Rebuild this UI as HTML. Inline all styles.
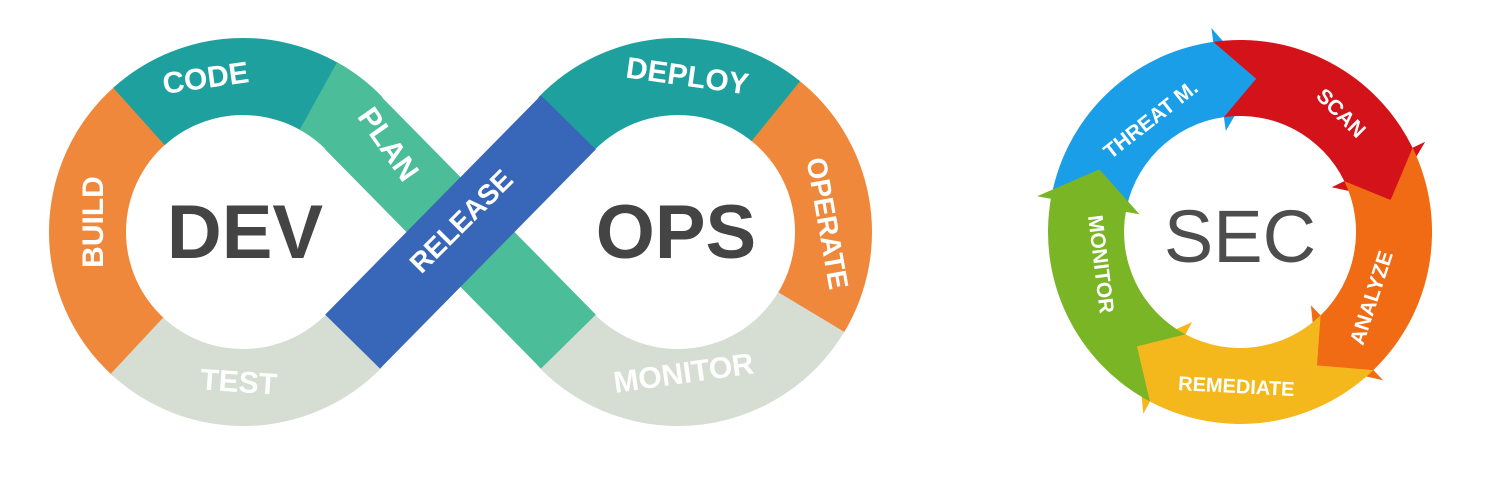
<!DOCTYPE html>
<html><head><meta charset="utf-8"><style>
html,body{margin:0;padding:0;background:#fff;width:1492px;height:481px;overflow:hidden}
svg{display:block}
.lbl{font-family:"Liberation Sans",sans-serif;font-weight:bold;fill:#fff}
.big{font-family:"Liberation Sans",sans-serif;font-weight:bold;fill:#444}
</style></head><body>
<svg id="s" width="1492" height="481" viewBox="0 0 1492 481" xmlns="http://www.w3.org/2000/svg">
<g id="shapes"></g>
<text class="big" x="245" y="258" font-size="76" text-anchor="middle">DEV</text>
<text class="big" x="676" y="258" font-size="76" text-anchor="middle">OPS</text>
<text x="1240" y="262" font-size="74" text-anchor="middle" font-family="Liberation Sans, sans-serif" fill="#4d4d4d">SEC</text>
<text class="lbl" font-size="30" text-anchor="middle" transform="translate(207,88) rotate(-8)">CODE</text>
<text class="lbl" font-size="30" text-anchor="middle" transform="translate(103,222) rotate(-90)">BUILD</text>
<text class="lbl" font-size="30" text-anchor="middle" transform="translate(380,150) rotate(55)">PLAN</text>
<text class="lbl" font-size="28" text-anchor="middle" transform="translate(468,228) rotate(-45)">RELEASE</text>
<text class="lbl" font-size="30" text-anchor="middle" fill="#f4f6f2" transform="translate(238,392) rotate(4)">TEST</text>
<text class="lbl" font-size="30" text-anchor="middle" transform="translate(686,86) rotate(8)">DEPLOY</text>
<text class="lbl" font-size="28" text-anchor="middle" transform="translate(818,225) rotate(80)">OPERATE</text>
<text class="lbl" font-size="30" text-anchor="middle" transform="translate(685,383) rotate(-8)">MONITOR</text>
<text class="lbl" font-size="21" text-anchor="middle" transform="translate(1155,125) rotate(-38)">THREAT M.</text>
<text class="lbl" font-size="21" text-anchor="middle" transform="translate(1336,118) rotate(45)">SCAN</text>
<text class="lbl" font-size="21" text-anchor="middle" transform="translate(1378,300) rotate(-72)">ANALYZE</text>
<text class="lbl" font-size="20" text-anchor="middle" transform="translate(1236,393) rotate(3)">REMEDIATE</text>
<text class="lbl" font-size="21" text-anchor="middle" transform="translate(1094,265) rotate(83)">MONITOR</text>
</svg>
<script>
var g=document.getElementById('shapes');
function P(c,r,a){var t=a*Math.PI/180;return [c[0]+r*Math.cos(t),c[1]+r*Math.sin(t)];}
function add(d,f){var p=document.createElementNS('http://www.w3.org/2000/svg','path');p.setAttribute('d',d);p.setAttribute('fill',f);g.appendChild(p);}
function s(p){return p[0].toFixed(1)+' '+p[1].toFixed(1);}
function sector(c,ri,ro,a0,a1,f){
 var lg=(a1-a0)>180?1:0;
 add('M'+s(P(c,ro,a0))+' A'+ro+' '+ro+' 0 '+lg+' 1 '+s(P(c,ro,a1))+' L'+s(P(c,ri,a1))+' A'+ri+' '+ri+' 0 '+lg+' 0 '+s(P(c,ri,a0))+'Z',f);
}
function band(p0,p1,w,f){
 var dx=p1[0]-p0[0],dy=p1[1]-p0[1],l=Math.hypot(dx,dy),nx=-dy/l*w/2,ny=dx/l*w/2;
 add('M'+(p0[0]+nx)+' '+(p0[1]+ny)+' L'+(p1[0]+nx)+' '+(p1[1]+ny)+' L'+(p1[0]-nx)+' '+(p1[1]-ny)+' L'+(p0[0]-nx)+' '+(p0[1]-ny)+'Z',f);
}
function arrow(c,ri,ro,a0,a1,h,b,f){
 var rm=(ri+ro)/2,lg=(a1-a0)>180?1:0;
 add('M'+s(P(c,ro,a0))+' A'+ro+' '+ro+' 0 '+lg+' 1 '+s(P(c,ro,a1))+' L'+s(P(c,ro+b,a1))+' L'+s(P(c,rm,a1+h))+' L'+s(P(c,ri-b,a1))+' L'+s(P(c,ri,a1))+' A'+ri+' '+ri+' 0 '+lg+' 0 '+s(P(c,ri,a0))+' L'+s(P(c,rm,a0+h))+'Z',f);
}
var L=[243,232],R=[678,232],ri=117,ro=194,w=77;
var k=155*Math.SQRT1_2;
var lt=[L[0]+k,L[1]-k],lb=[L[0]+k,L[1]+k],rt=[R[0]-k,R[1]-k],rb=[R[0]-k,R[1]+k];
sector(L,ri,ro,132,229,'#f0883c');
sector(L,ri,ro,228,300,'#1ea19e');
sector(L,ri,ro,299,316,'#4bbd98');
sector(L,ri,ro,44,133,'#d6ddd3');
sector(R,ri,ro,30,136,'#d6ddd3');
sector(R,ri,ro,-52,31,'#f0883c');
sector(R,ri,ro,-136,-51,'#1ea19e');
band(lt,rb,w,'#4bbd98');
band(lb,rt,w,'#3866b8');
var C=[1240,232],si=116,so=192;
arrow(C,si,so,188,262,14,14,'#1a9ee8');
arrow(C,si,so,262,334,14,14,'#d4121a');
arrow(C,si,so,334,406,14,14,'#f06b14');
arrow(C,si,so,46,118,14,14,'#f5b81c');
arrow(C,si,so,118,190,14,14,'#7ab526');
</script>
</body></html>
